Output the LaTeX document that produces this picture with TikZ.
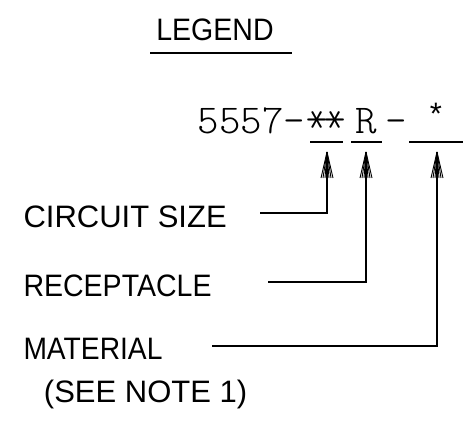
\documentclass[tikz,border=0pt]{standalone}
\usepackage{fontspec}
\setmainfont{Liberation Sans}
\tikzset{
  lbl/.style={inner sep=0pt, outer sep=0pt, font=\fontsize{31}{36}\selectfont},
  cad/.style={inner sep=0pt, outer sep=0pt, font=\fontfamily{lmtt}\fontseries{l}\fontsize{41}{48}\selectfont},
  astk/.style={inner sep=0pt, outer sep=0pt, font=\fontfamily{lmtt}\fontseries{l}\fontsize{44}{48}\selectfont, rotate=90, anchor=base},
  conn/.style={line width=1.1pt},
  fan/.pic={\foreach \d in {-6,-4,...,6} \draw[line width=0.9pt] (0,0) -- (\d,26);}
}
\begin{document}
\begin{tikzpicture}[x=1pt,y=-1pt]
\useasboundingbox (0,0) rectangle (467,426);
% title
\node[lbl, anchor=base] (legend) at (215,40) {\scalebox{0.92}[1]{LEGEND}};
\draw[conn] (150,53) -- (292,53);
% part number
\node[cad, anchor=base west] (code) at (197.5,133) {5557-};
\node[astk] (a1) at (330,120) {*};
\node[astk] (a2) at (348,120) {*};
\node[cad, anchor=base] (r) at (366,133) {R};
\node[cad, anchor=base] (dash) at (396,133) {-};
\node[lbl, anchor=base] (star) at (436,124) {*};
\draw[conn] (310,142) -- (343,142);
\draw[conn] (351,142) -- (382,142);
\draw[conn] (409,142) -- (463,142);
% labels
\node[lbl, anchor=base west] (cs) at (23.5,227.5) {CIRCUIT SIZE};
\node[lbl, anchor=base west] (rc) at (23.5,296) {\scalebox{0.92}[1]{RECEPTACLE}};
\node[lbl, anchor=base west] (ml) at (23.5,359) {\scalebox{0.91}[1]{MATERIAL}};
\node[lbl, anchor=base west] (note) at (44,402) {(SEE NOTE 1)};
% connectors
\coordinate (s1) at (260,213); \coordinate (t1) at (327,152);
\coordinate (s2) at (268,282); \coordinate (t2) at (366,152);
\coordinate (s3) at (212,346); \coordinate (t3) at (437,152);
\draw[conn] (s1) -| (t1);
\draw[conn] (s2) -| (t2);
\draw[conn] (s3) -| (t3);
\pic at (t1) {fan};
\pic at (t2) {fan};
\pic at (t3) {fan};
\end{tikzpicture}
\end{document}
